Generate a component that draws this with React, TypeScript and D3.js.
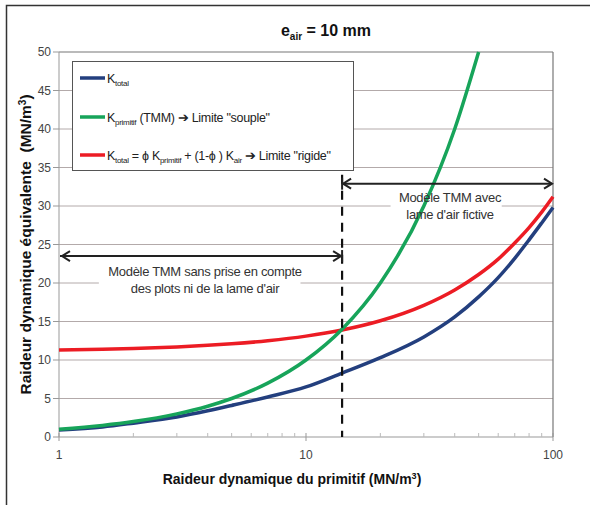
import * as d3 from "d3";

// values (x = raideur du primitif, MN/m3)
const primitifX = [1, 1.5, 2, 3, 4, 5, 7, 10, 14, 20, 30, 40, 50, 60, 70, 80, 90, 100];
const kTotal = [0.9, 1.3, 1.8, 2.6, 3.4, 4.1, 5.2, 6.5, 8.3, 10.3, 13, 15.6, 18.2, 20.7, 23.2, 25.6, 27.8, 29.8];
const kRigide = [11.3, 11.4, 11.5, 11.7, 11.9, 12.1, 12.5, 13.1, 13.9, 15.1, 17.1, 19.1, 21.1, 23.1, 25.2, 27.2, 29.2, 31.2];
const souplePrimX = [1, 1.5, 2, 3, 4, 5, 7, 10, 14, 20, 30, 40, 50];
const kSouple = [1, 1.5, 2, 3, 4, 5, 7, 10, 14, 20, 30, 40, 50];

const yTicks = [0, 5, 10, 15, 20, 25, 30, 35, 40, 45, 50];
const xTicks = [1, 10, 100];
const limitX = 14;

const BLUE = "#233f7e";
const GREEN = "#17a45a";
const RED = "#ec1c24";
const GRID = "#b3aaaa";
const NARROW = "'Liberation Sans Narrow', 'Arial Narrow', 'Liberation Sans', Arial, sans-serif";
const SANS = "'Liberation Sans', Arial, sans-serif";

const margin = { left: 59, right: 37, top: 52, bottom: 68 };
const W = 590;
const H = 505;

export default function App() {
  const x = d3.scaleLog().domain([1, 100]).range([margin.left, W - margin.right]);
  const y = d3.scaleLinear().domain([0, 50]).range([H - margin.bottom, margin.top]);

  const line = (xs: number[]) =>
    d3
      .line<number>()
      .x((_, i) => x(xs[i]))
      .y((d) => y(d))
      .curve(d3.curveMonotoneX);

  const minorTicks = x.ticks().filter((t) => !xTicks.includes(t));
  const x0 = x.range()[0];
  const x1 = x.range()[1];
  const y0 = y(0);
  const yTop = y(50);

  const chevL = (px: number, py: number) => `M${px + 9},${py - 5}L${px + 1},${py}L${px + 9},${py + 5}`;
  const chevR = (px: number, py: number) => `M${px - 9},${py - 5}L${px - 1},${py}L${px - 9},${py + 5}`;

  const upY = y(32.9);
  const lowY = y(23.5);
  const xl = x(limitX);

  return (
    <svg width={W} height={H} style={{ position: "absolute", left: 0, top: 0, background: "#fff" }}>
      <rect x={6.5} y={5.5} width={620} height={620} fill="#fff" stroke="#333" strokeWidth={1.5} />

      {/* grid */}
      {yTicks.slice(1, -1).map((t) => (
        <line key={t} x1={x0} x2={x1} y1={y(t)} y2={y(t)} stroke={GRID} strokeWidth={1} />
      ))}
      <line x1={x0} x2={x1} y1={yTop} y2={yTop} stroke="#777" strokeWidth={1.2} />
      <line x1={x1} x2={x1} y1={yTop} y2={y0} stroke="#777" strokeWidth={1.2} />
      <line x1={x0} x2={x0} y1={yTop} y2={y0} stroke="#999" strokeWidth={1} />
      <line x1={x0} x2={x1} y1={y0} y2={y0} stroke="#999" strokeWidth={1.2} />

      {/* y ticks */}
      {yTicks.map((t) => (
        <g key={t}>
          <line x1={x0 - 6} x2={x0} y1={y(t)} y2={y(t)} stroke="#999" />
          <text x={x0 - 8} y={y(t)} dy="0.35em" textAnchor="end" fontSize={12} fontFamily={SANS} fill="#444">
            {t}
          </text>
        </g>
      ))}
      {/* x ticks */}
      {minorTicks.map((t) => (
        <line key={t} x1={x(t)} x2={x(t)} y1={y0} y2={y0 - 4} stroke="#bbb" />
      ))}
      {xTicks.map((t) => (
        <g key={t}>
          <line x1={x(t)} x2={x(t)} y1={y0 - 4} y2={y0 + 4} stroke="#999" />
          <text x={x(t)} y={y0 + 22} textAnchor="middle" fontSize={12} fontFamily={SANS} fill="#444">
            {t}
          </text>
        </g>
      ))}

      {/* annotation boxes */}
      <rect x={x(22)} y={upY + 7} width={x(62) - x(22)} height={34} fill="#fff" />
      <rect x={x(1.45)} y={lowY + 7} width={x(9.5) - x(1.45)} height={36} fill="#fff" />

      {/* curves */}
      <path d={line(primitifX)(kTotal) ?? ""} fill="none" stroke={BLUE} strokeWidth={3.5} />
      <path d={line(primitifX)(kRigide) ?? ""} fill="none" stroke={RED} strokeWidth={3.5} />
      <path d={line(souplePrimX)(kSouple) ?? ""} fill="none" stroke={GREEN} strokeWidth={3.5} />

      {/* limit line */}
      <line x1={xl} x2={xl} y1={upY - 9} y2={y0} stroke="#111" strokeWidth={2.2} strokeDasharray="9,7" />

      {/* arrows */}
      <line x1={xl} x2={x1 - 1} y1={upY} y2={upY} stroke="#222" strokeWidth={2} />
      <path d={chevL(xl, upY)} fill="none" stroke="#222" strokeWidth={2} />
      <path d={chevR(x1, upY)} fill="none" stroke="#222" strokeWidth={2} />
      <line x1={xl} x2={xl} y1={upY - 6} y2={upY + 6} stroke="#222" strokeWidth={2} />
      <line x1={x0 + 1} x2={xl} y1={lowY} y2={lowY} stroke="#222" strokeWidth={2} />
      <path d={chevL(x0 + 2, lowY)} fill="none" stroke="#222" strokeWidth={2} />
      <path d={chevR(xl, lowY)} fill="none" stroke="#222" strokeWidth={2} />
      <line x1={xl} x2={xl} y1={lowY - 6} y2={lowY + 6} stroke="#222" strokeWidth={2} />

      <g fontFamily={NARROW} fontSize={13} fill="#333" textAnchor="middle" letterSpacing={-0.3}>
        <text x={450} y={upY + 18}>Modèle TMM avec</text>
        <text x={450} y={upY + 35}>lame d'air fictive</text>
        <text x={205} y={lowY + 20}>Modèle TMM sans prise en compte</text>
        <text x={205} y={lowY + 37}>des plots ni de la lame d'air</text>
      </g>

      {/* legend */}
      <rect x={72.5} y={61.5} width={281} height={109} fill="#fff" stroke="#555" strokeWidth={1} />
      <g fontFamily={NARROW} fontSize={12.5} fill="#222" letterSpacing={-0.3}>
        <line x1={80} x2={105} y1={78} y2={78} stroke={BLUE} strokeWidth={3.5} />
        <text x={107} y={83}>
          K<tspan fontSize={8} dy={3}>total</tspan>
        </text>
        <line x1={80} x2={105} y1={117} y2={117} stroke={GREEN} strokeWidth={3.5} />
        <text x={107} y={122}>
          K<tspan fontSize={8} dy={3}>primitif</tspan>
          <tspan dy={-3}> (TMM) ➔ Limite "souple"</tspan>
        </text>
        <line x1={80} x2={105} y1={155} y2={155} stroke={RED} strokeWidth={3.5} />
        <text x={107} y={160}>
          K<tspan fontSize={8} dy={3}>total</tspan>
          <tspan dy={-3}> = ϕ K</tspan>
          <tspan fontSize={8} dy={3}>primitif</tspan>
          <tspan dy={-3}> + (1-ϕ ) K</tspan>
          <tspan fontSize={8} dy={3}>air</tspan>
          <tspan dy={-3}> ➔ Limite "rigide"</tspan>
        </text>
      </g>

      {/* titles */}
      <text x={326} y={36} textAnchor="middle" fontFamily={SANS} fontWeight="bold" fontSize={16} fill="#111">
        e<tspan fontSize={10} dy={4}>air</tspan>
        <tspan dy={-4}> = 10 mm</tspan>
      </text>
      <text x={292} y={484} textAnchor="middle" fontFamily={SANS} fontWeight="bold" fontSize={14} fill="#111">
        Raideur dynamique du primitif (MN/m<tspan fontSize={9} dy={-5}>3</tspan>
        <tspan dy={5}>)</tspan>
      </text>
      <text
        transform={`translate(31, ${(yTop + y0) / 2}) rotate(-90)`}
        textAnchor="middle"
        fontFamily={SANS}
        fontWeight="bold"
        fontSize={15.5}
        fill="#111"
        style={{ whiteSpace: "pre" }}
      >
        {"Raideur dynamique équivalente  (MN/m"}
        <tspan fontSize={10} dy={-5}>3</tspan>
        <tspan dy={5}>)</tspan>
      </text>
    </svg>
  );
}
